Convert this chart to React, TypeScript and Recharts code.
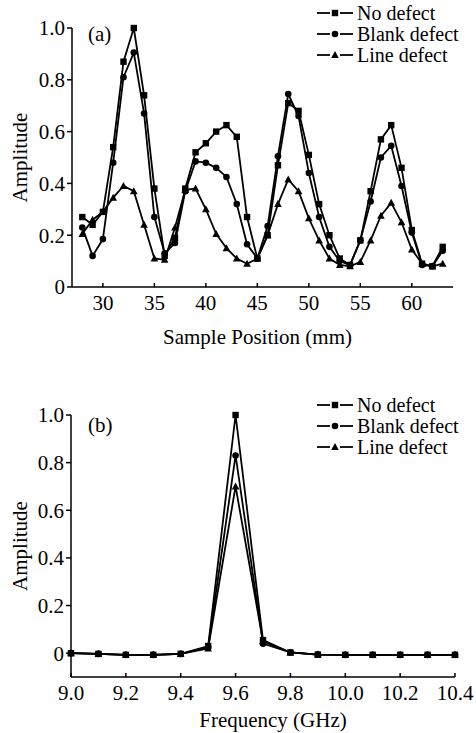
import { LineChart, Line, XAxis, YAxis, Legend, Label, Customized } from "recharts";

const positions = [28, 29, 30, 31, 32, 33, 34, 35, 36, 37, 38, 39, 40, 41, 42, 43, 44, 45, 46, 47, 48, 49, 50, 51, 52, 53, 54, 55, 56, 57, 58, 59, 60, 61, 62, 63];
const noDefectA = [0.27, 0.24, 0.29, 0.54, 0.87, 1.0, 0.74, 0.38, 0.12, 0.19, 0.38, 0.52, 0.555, 0.6, 0.625, 0.58, 0.27, 0.11, 0.2, 0.47, 0.71, 0.68, 0.51, 0.32, 0.2, 0.11, 0.085, 0.18, 0.37, 0.57, 0.625, 0.46, 0.22, 0.09, 0.08, 0.155];
const blankDefectA = [0.23, 0.12, 0.185, 0.48, 0.81, 0.905, 0.67, 0.27, 0.13, 0.17, 0.37, 0.485, 0.48, 0.46, 0.425, 0.32, 0.165, 0.11, 0.235, 0.505, 0.745, 0.66, 0.44, 0.27, 0.155, 0.1, 0.085, 0.18, 0.33, 0.5, 0.545, 0.39, 0.21, 0.085, 0.08, 0.14];
const lineDefectA = [0.205, 0.26, 0.29, 0.345, 0.39, 0.37, 0.24, 0.11, 0.105, 0.23, 0.375, 0.38, 0.3, 0.205, 0.15, 0.11, 0.09, 0.11, 0.2, 0.32, 0.415, 0.37, 0.265, 0.18, 0.11, 0.085, 0.08, 0.097, 0.18, 0.275, 0.325, 0.25, 0.145, 0.09, 0.08, 0.09];

const frequencies = [9.0, 9.1, 9.2, 9.3, 9.4, 9.5, 9.6, 9.7, 9.8, 9.9, 10.0, 10.1, 10.2, 10.3, 10.4];
const noDefectB = [0, -0.003, -0.007, -0.007, -0.003, 0.03, 1.0, 0.055, 0.003, -0.006, -0.007, -0.007, -0.007, -0.007, -0.007];
const blankDefectB = [0, -0.003, -0.007, -0.007, -0.003, 0.025, 0.83, 0.04, 0.003, -0.006, -0.007, -0.007, -0.007, -0.007, -0.007];
const lineDefectB = [0, -0.003, -0.007, -0.007, -0.003, 0.02, 0.7, 0.05, 0.003, -0.006, -0.007, -0.007, -0.007, -0.007, -0.007];

const posTicks = [30, 35, 40, 45, 50, 55, 60];
const freqTicks = [9.0, 9.2, 9.4, 9.6, 9.8, 10.0, 10.2, 10.4];
const ampTicks = [0, 0.2, 0.4, 0.6, 0.8, 1.0];
const seriesNames = ["No defect", "Blank defect", "Line defect"];

const dataA = positions.map((x, i) => ({ x, a: noDefectA[i], b: blankDefectA[i], c: lineDefectA[i] }));
const dataB = frequencies.map((x, i) => ({ x, a: noDefectB[i], b: blankDefectB[i], c: lineDefectB[i] }));

const FONT = "Liberation Serif, DejaVu Serif, serif";
const FS = 21;

function Marker({ kind, cx, cy }: { kind: string; cx: number; cy: number }) {
  if (kind === "square") return <rect x={cx - 3.2} y={cy - 3.2} width={6.4} height={6.4} fill="#000" />;
  if (kind === "circle") return <circle cx={cx} cy={cy} r={3.3} fill="#000" />;
  return <polygon points={`${cx},${cy - 4} ${cx + 3.8},${cy + 3} ${cx - 3.8},${cy + 3}`} fill="#000" />;
}

const dotOf = (kind: string) => (p: any) =>
  p.cx == null ? <g key={p.index} /> : <Marker key={`${kind}-${p.index}`} kind={kind} cx={p.cx} cy={p.cy} />;

const kinds = ["square", "circle", "triangle"];

// legend rows: dash, marker, dash, then the name
function LegendBox() {
  return (
    <div style={{ fontFamily: FONT, fontSize: 20, lineHeight: "21px", color: "#000" }}>
      {seriesNames.map((name, i) => (
        <div key={name} style={{ display: "flex", alignItems: "center", height: 21, whiteSpace: "nowrap" }}>
          <svg width={40} height={20} style={{ display: "block" }}>
            <line x1={0} y1={10} x2={13} y2={10} stroke="#000" strokeWidth={1.8} />
            <line x1={23} y1={10} x2={36} y2={10} stroke="#000" strokeWidth={1.8} />
            <Marker kind={kinds[i]} cx={18} cy={10} />
          </svg>
          <span style={{ fontFamily: FONT }}>{name}</span>
        </div>
      ))}
    </div>
  );
}

// x ticks point inward (up from the axis line)
function XTick(props: any) {
  const { x, y, payload, gap, fmt } = props;
  const axisY = y - gap;
  return (
    <g>
      <line x1={x} y1={axisY} x2={x} y2={axisY - 4} stroke="#000" strokeWidth={1.5} />
      <text x={x} y={y} dy="0.71em" textAnchor="middle" style={{ fontFamily: FONT, fontSize: FS }} fill="#000">
        {fmt(payload.value)}
      </text>
    </g>
  );
}

const fmtAmp = (v: number) => (v === 0 ? "0" : v.toFixed(1));

function YTitle({ viewBox }: any) {
  const cy = viewBox.y + viewBox.height / 2;
  return (
    <text x={20} y={cy} transform={`rotate(-90 20 ${cy})`} textAnchor="middle" dominantBaseline="central" style={{ fontFamily: FONT, fontSize: FS }} fill="#000">
      Amplitude
    </text>
  );
}

function XTitle({ viewBox, text, below, shift }: any) {
  return (
    <text x={viewBox.x + viewBox.width / 2 + shift} y={viewBox.y + below} textAnchor="middle" dominantBaseline="central" style={{ fontFamily: FONT, fontSize: FS }} fill="#000">
      {text}
    </text>
  );
}

function PanelTag({ text, y }: { text: string; y: number }) {
  return (
    <text x={88} y={y} style={{ fontFamily: FONT, fontSize: FS }} fill="#000">
      {text}
    </text>
  );
}

export default function App() {
  const axisStroke = { stroke: "#000", strokeWidth: 1.5 };
  const yTick = { fontFamily: FONT, fontSize: FS, fill: "#000", style: { fontFamily: FONT } };
  const lines = (["a", "b", "c"] as const).map((k, i) => (
    <Line
      key={k}
      dataKey={k}
      name={seriesNames[i]}
      stroke="#000"
      strokeWidth={1.8}
      dot={dotOf(kinds[i])}
      activeDot={false}
      isAnimationActive={false}
    />
  ));
  return (
    <div style={{ position: "absolute", left: 0, top: 0, width: 476, height: 733, background: "#fff", fontFamily: FONT }}>
      <LineChart width={476} height={380} data={dataA} margin={{ top: 28, right: 23, left: 0, bottom: 0 }}>
        <XAxis
          dataKey="x"
          type="number"
          domain={[27, 64]}
          ticks={posTicks}
          height={93}
          axisLine={axisStroke}
          tickLine={false}
          tickSize={0}
          tickMargin={8}
          tick={<XTick gap={8} fmt={(v: number) => String(v)} />}
        >
          <Label content={<XTitle text="Sample Position (mm)" below={50} shift={-5} />} />
        </XAxis>
        <YAxis
          type="number"
          domain={[0, 1]}
          ticks={ampTicks}
          width={72}
          axisLine={axisStroke}
          tickLine={axisStroke}
          tickSize={5}
          tickMargin={2}
          tick={yTick}
          tickFormatter={fmtAmp}
        >
          <Label content={<YTitle />} />
        </YAxis>
        <Legend layout="vertical" align="center" verticalAlign="middle" wrapperStyle={{ top: 2.5, left: 317, width: 160 }} content={<LegendBox />} />
        <Customized component={() => <PanelTag text="(a)" y={41} />} />
        {lines}
      </LineChart>
      <LineChart width={476} height={353} data={dataB} margin={{ top: 35, right: 21, left: 0, bottom: 0 }}>
        <XAxis
          dataKey="x"
          type="number"
          domain={[9.0, 10.4]}
          ticks={freqTicks}
          height={56}
          axisLine={axisStroke}
          tickLine={false}
          tickSize={0}
          tickMargin={8}
          tick={<XTick gap={8} fmt={(v: number) => v.toFixed(1)} />}
        >
          <Label content={<XTitle text="Frequency (GHz)" below={43} shift={10} />} />
        </XAxis>
        <YAxis
          type="number"
          domain={[-0.1, 1]}
          ticks={ampTicks}
          width={71}
          axisLine={axisStroke}
          tickLine={axisStroke}
          tickSize={5}
          tickMargin={2}
          tick={yTick}
          tickFormatter={fmtAmp}
        >
          <Label content={<YTitle />} />
        </YAxis>
        <Legend layout="vertical" align="center" verticalAlign="middle" wrapperStyle={{ top: 14.5, left: 317, width: 160 }} content={<LegendBox />} />
        <Customized component={() => <PanelTag text="(b)" y={52} />} />
        {lines}
      </LineChart>
    </div>
  );
}
